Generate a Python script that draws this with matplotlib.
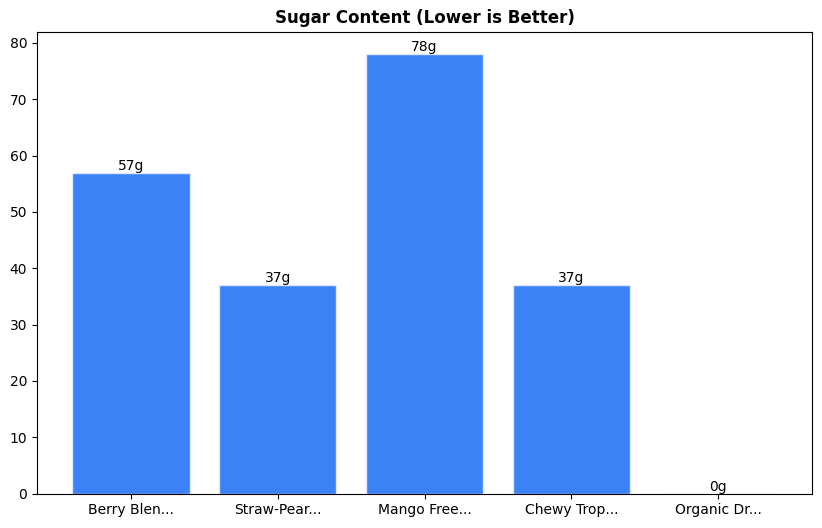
import matplotlib.pyplot as plt

products = ["Berry Blen...", "Straw-Pear...", "Mango Free...", "Chewy Trop...", "Organic Dr..."]
sugar_g = [57, 37, 78, 37, 0]

fig, ax = plt.subplots(figsize=(8.22, 5.28), dpi=100)
fig.subplots_adjust(left=0.045, right=0.988, top=0.94, bottom=0.065)

bars = ax.bar(products, sugar_g, color="#3b82f6", edgecolor="#e0e7ff", linewidth=1)
for b, v in zip(bars, sugar_g):
    ax.text(b.get_x() + b.get_width() / 2, b.get_height(), f"{v}g",
            ha="center", va="bottom", fontsize=10)

ax.set_title("Sugar Content (Lower is Better)", fontsize=12, fontweight="bold")
ax.set_ylim(0, 82)

fig.savefig("out.png", dpi=100)
